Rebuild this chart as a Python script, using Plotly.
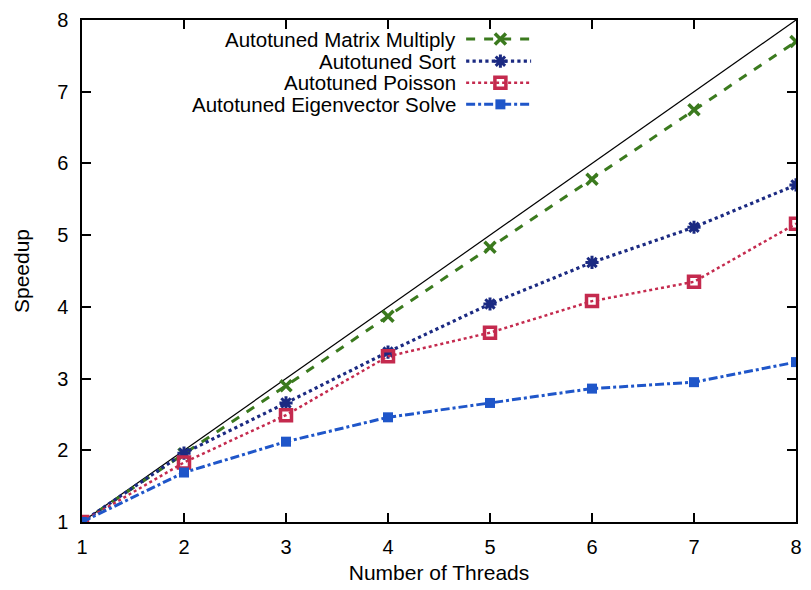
import plotly.graph_objects as go

threads = [1, 2, 3, 4, 5, 6, 7, 8]
matrix = [1.0, 1.95, 2.9, 3.87, 4.83, 5.78, 6.75, 7.7]
sort_ = [1.0, 1.96, 2.66, 3.37, 4.04, 4.62, 5.11, 5.70]
poisson = [1.0, 1.83, 2.49, 3.31, 3.64, 4.08, 4.35, 5.16]
eigen = [1.0, 1.69, 2.12, 2.46, 2.66, 2.86, 2.95, 3.23]
ideal = [1, 8]
names = ["Autotuned Matrix Multiply", "Autotuned Sort", "Autotuned Poisson",
         "Autotuned Eigenvector Solve"]
x_ticks = [1, 2, 3, 4, 5, 6, 7, 8]
y_ticks = [1, 2, 3, 4, 5, 6, 7, 8]

styles = [
    dict(color="#3b7a1e", dash="dash", width=3, symbol="x-thin-open", msize=11, mline=3.5),
    dict(color="#1b2a82", dash="dot", width=3.2, symbol="asterisk-open", msize=11, mline=3),
    dict(color="#c42a4e", dash="dot", width=2.5, symbol="square-open", msize=11, mline=3.5),
    dict(color="#1f56c9", dash="dashdot", width=3, symbol="square", msize=10, mline=0),
]
series = [matrix, sort_, poisson, eigen]

fig = go.Figure()
fig.add_trace(go.Scatter(x=ideal, y=ideal, mode="lines",
                         line=dict(color="black", width=1.2), showlegend=False,
                         hoverinfo="skip"))
for vals, st, nm in zip(series, styles, names):
    fig.add_trace(go.Scatter(
        x=threads, y=vals, mode="lines+markers", name=nm, showlegend=False,
        line=dict(color=st["color"], dash=st["dash"], width=st["width"]),
        marker=dict(symbol=st["symbol"], size=st["msize"], color=st["color"],
                    line=dict(color=st["color"], width=st["mline"]))))

# custom legend (text right-aligned, sample on the right) on an overlay axis
leg_y = [0.962, 0.918, 0.875, 0.832]
for i, (st, nm) in enumerate(zip(styles, names)):
    fig.add_trace(go.Scatter(
        x=[0.538, 0.586, 0.629], y=[leg_y[i]] * 3, mode="lines",
        xaxis="x2", yaxis="y2", showlegend=False, hoverinfo="skip",
        line=dict(color=st["color"], dash=st["dash"], width=st["width"])))
    fig.add_trace(go.Scatter(
        x=[0.586], y=[leg_y[i]], mode="markers", xaxis="x2", yaxis="y2",
        showlegend=False, hoverinfo="skip",
        marker=dict(symbol=st["symbol"], size=st["msize"], color=st["color"],
                    line=dict(color=st["color"], width=st["mline"]))))
    fig.add_annotation(x=0.527, y=leg_y[i], xref="x2", yref="y2", text=nm,
                       showarrow=False, xanchor="right", yanchor="middle",
                       font=dict(size=20.5, color="black"))

axis_common = dict(showgrid=False, zeroline=False, showline=True, linecolor="black",
                   linewidth=1.5, mirror="ticks", ticks="inside", ticklen=9,
                   tickwidth=1.5, tickcolor="black",
                   tickfont=dict(size=20, color="black"))

fig.update_layout(
    width=811, height=590,
    margin=dict(l=82, r=9, t=19, b=63),
    paper_bgcolor="white", plot_bgcolor="white",
    font=dict(family="Liberation Sans, Arial, sans-serif", color="black"),
    xaxis=dict(range=[1, 8], tickvals=x_ticks, ticklabelstandoff=6,
               title=dict(text="Number of Threads", font=dict(size=21), standoff=9),
               **axis_common),
    yaxis=dict(range=[1, 8], tickvals=y_ticks, ticklabelstandoff=8,
               title=dict(text="Speedup", font=dict(size=21), standoff=22),
               **axis_common),
    xaxis2=dict(overlaying="x", range=[0, 1], visible=False),
    yaxis2=dict(overlaying="y", range=[0, 1], visible=False),
    showlegend=False,
)

fig.write_html("out.html", config={"displayModeBar": False},
               post_script="document.body.style.margin='0';document.body.style.padding='0';")
